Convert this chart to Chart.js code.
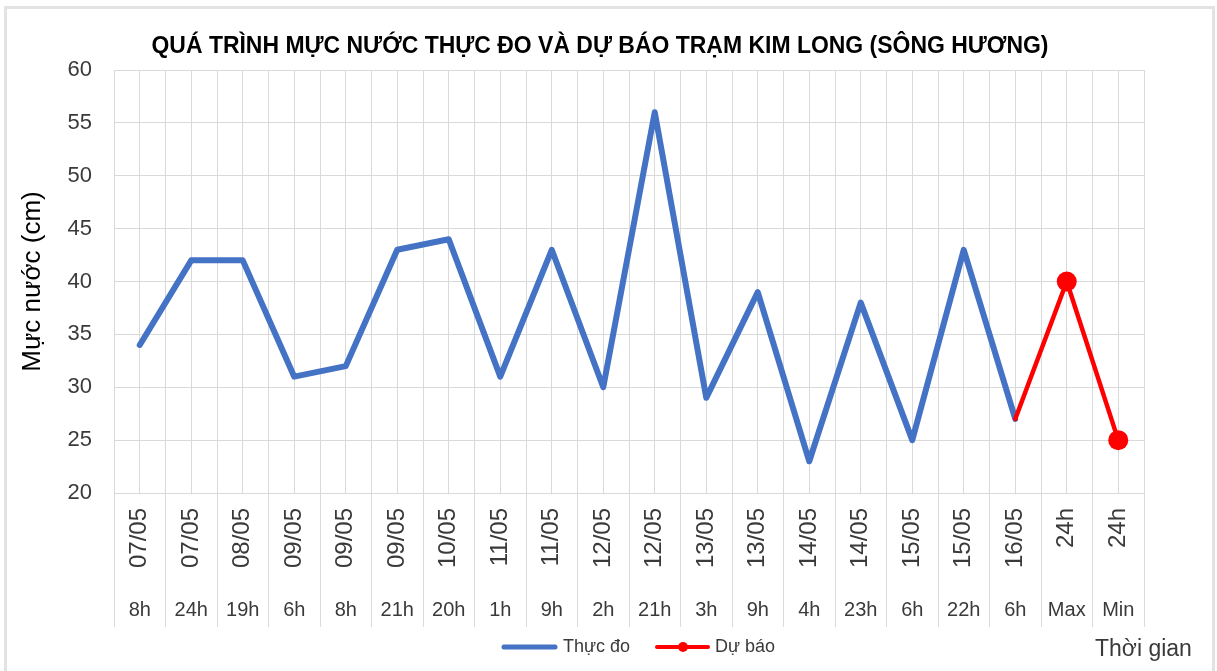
<!DOCTYPE html>
<html>
<head>
<meta charset="utf-8">
<title>Mực nước Kim Long</title>
<script src="https://cdn.jsdelivr.net/npm/chart.js@4/dist/chart.umd.min.js"></script>
<style>
  html, body { margin: 0; padding: 0; background: #fff; overflow: hidden; }
  #wrap { position: relative; width: 1217px; height: 671px; }
  #frame { position: absolute; left: 4px; top: 6px; width: 1211px; height: 700px;
           border: 3px solid #e3e3e3; border-bottom: none; box-sizing: border-box; }
  #chart { position: absolute; left: 0; top: 0; }
</style>
</head>
<body>
<div id="wrap">
  <div id="frame"></div>
  <canvas id="chart" width="1217" height="671"></canvas>
</div>
<script>
const chartTitle = 'QUÁ TRÌNH MỰC NƯỚC THỰC ĐO VÀ DỰ BÁO TRẠM KIM LONG (SÔNG HƯƠNG)';
const dates = ['07/05', '07/05', '08/05', '09/05', '09/05', '09/05', '10/05', '11/05', '11/05', '12/05',
  '12/05', '13/05', '13/05', '14/05', '14/05', '15/05', '15/05', '16/05', '24h', '24h'];
const hours = ['8h', '24h', '19h', '6h', '8h', '21h', '20h', '1h', '9h', '2h',
  '21h', '3h', '9h', '4h', '23h', '6h', '22h', '6h', 'Max', 'Min'];
const observed = [34, 42, 42, 31, 32, 43, 44, 31, 43, 30, 56, 29, 39, 23, 38, 25, 43, 27, null, null];
const forecast = [null, null, null, null, null, null, null, null, null, null,
  null, null, null, null, null, null, null, 27, 40, 25];
const yMin = 20;
const yMax = 60;
const yStep = 5;

const FONT = "'Liberation Sans', 'Noto Sans', sans-serif";
const TEXT = '#3a3a3a';
const GRID = '#d9d9d9';
const BLUE = '#4472C4';
const RED = '#FF0000';

Chart.defaults.font.family = FONT;
Chart.defaults.color = TEXT;

// labels under the axis, legend, axis captions
const extras = {
  id: 'extras',
  afterDraw(chart) {
    const { ctx } = chart;
    const x = chart.scales.x;

    ctx.save();
    ctx.fillStyle = '#000';
    ctx.font = 'bold 24px ' + FONT;
    ctx.textAlign = 'center';
    ctx.textBaseline = 'middle';
    ctx.fillText(chartTitle, 600, 46, 897);

    ctx.fillStyle = TEXT;
    dates.forEach((d, i) => {
      const px = x.getPixelForValue(i);
      ctx.save();
      ctx.translate(px, 508);
      ctx.rotate(-Math.PI / 2);
      ctx.font = '24px ' + FONT;
      ctx.textAlign = 'right';
      ctx.textBaseline = 'middle';
      ctx.fillText(d, 0, 0);
      ctx.restore();

      ctx.font = '20px ' + FONT;
      ctx.textAlign = 'center';
      ctx.textBaseline = 'middle';
      ctx.fillText(hours[i], px, 610);
    });

    // legend
    const ly = 647;
    ctx.lineCap = 'round';
    ctx.strokeStyle = BLUE;
    ctx.lineWidth = 5;
    ctx.beginPath(); ctx.moveTo(504, ly); ctx.lineTo(555, ly); ctx.stroke();
    ctx.strokeStyle = RED;
    ctx.lineWidth = 4;
    ctx.beginPath(); ctx.moveTo(657, ly); ctx.lineTo(708, ly); ctx.stroke();
    ctx.fillStyle = RED;
    ctx.beginPath(); ctx.arc(683, ly, 5, 0, Math.PI * 2); ctx.fill();

    ctx.fillStyle = TEXT;
    ctx.font = '18px ' + FONT;
    ctx.textAlign = 'left';
    ctx.fillText('Thực đo', 563, ly);
    ctx.fillText('Dự báo', 715, ly);

    ctx.font = '23px ' + FONT;
    ctx.fillText('Thời gian', 1095, 650);
    ctx.restore();
  }
};

new Chart(document.getElementById('chart'), {
  type: 'line',
  data: {
    labels: hours,
    datasets: [
      {
        label: 'Thực đo',
        data: observed,
        borderColor: BLUE,
        backgroundColor: BLUE,
        borderWidth: 6,
        pointRadius: 0,
        borderJoinStyle: 'round',
        borderCapStyle: 'round',
        tension: 0,
        order: 2
      },
      {
        label: 'Dự báo',
        data: forecast,
        borderColor: RED,
        backgroundColor: RED,
        borderWidth: 4.5,
        pointRadius: (c) => (c.dataIndex < 18 ? 0 : 10),
        pointBorderWidth: 0,
        pointBackgroundColor: RED,
        borderJoinStyle: 'round',
        borderCapStyle: 'round',
        tension: 0,
        order: 1
      }
    ]
  },
  options: {
    responsive: false,
    animation: false,
    devicePixelRatio: 1,
    layout: { padding: { left: 0, top: 70, right: 73, bottom: 44 } },
    plugins: {
      legend: { display: false },
      title: { display: false },
      tooltip: { enabled: false }
    },
    scales: {
      x: {
        type: 'category',
        offset: true,
        grid: { offset: true, color: GRID, lineWidth: 1, drawTicks: true, tickLength: 134, tickColor: GRID },
        border: { display: true, color: GRID },
        ticks: { display: false },
        afterFit(s) { s.height = 134; }
      },
      x2: {
        type: 'category',
        position: 'bottom',
        offset: true,
        grid: { offset: false, color: GRID, lineWidth: 1, drawTicks: false },
        border: { display: false },
        ticks: { display: false },
        afterFit(s) { s.height = 0; }
      },
      y: {
        min: yMin,
        max: yMax,
        ticks: { stepSize: yStep, padding: 22, color: TEXT, font: { size: 22 } },
        grid: { color: GRID, lineWidth: 1, drawTicks: false },
        border: { display: true, color: GRID },
        title: {
          display: true,
          text: 'Mực nước (cm)',
          color: '#000',
          font: { size: 26 },
          padding: { top: 17, bottom: 0 }
        },
        afterFit(s) { s.width = 114; }
      }
    }
  },
  plugins: [extras]
});
</script>
</body>
</html>
